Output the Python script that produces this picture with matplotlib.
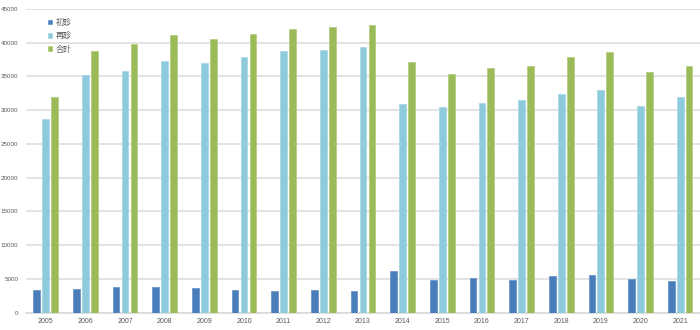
import numpy as np
import matplotlib.pyplot as plt

plt.rcParams['font.family'] = ['Liberation Sans', 'Noto Sans CJK JP', 'DejaVu Sans']

# yearly patient counts
years = ['2005', '2006', '2007', '2008', '2009', '2010', '2011', '2012', '2013',
         '2014', '2015', '2016', '2017', '2018', '2019', '2020', '2021']
first_visit = [3400, 3500, 3850, 3760, 3620, 3300, 3170, 3360, 3170,
               6140, 4850, 5200, 4900, 5450, 5530, 5000, 4650]
return_visit = [28750, 35230, 35860, 37250, 37000, 37850, 38830, 38930, 39420,
                30930, 30440, 31030, 31570, 32410, 33000, 30590, 31920]
total = [32000, 38780, 39780, 41110, 40560, 41260, 42090, 42290, 42640,
         37150, 35370, 36310, 36560, 37940, 38640, 35630, 36560]

x = np.arange(len(years))
w = 0.17
off = 0.225

fig = plt.figure(figsize=(7, 3.3), dpi=100)
ax = fig.add_axes([0.037, 0.0524, 0.963, 0.9203])

ax.bar(x - off, first_visit, w, color='#4a7ebb', edgecolor='#6b96cc', linewidth=0.6, label='初診', zorder=3)
ax.bar(x, return_visit, w, color='#8ccadc', edgecolor='#aad8e6', linewidth=0.6, label='再診', zorder=3)
ax.bar(x + off, total, w, color='#9bbb59', edgecolor='#b4cd80', linewidth=0.6, label='合計', zorder=3)

ax.set_xlim(-0.5, len(years) - 0.5)
ax.set_ylim(0, 45000)
ax.set_yticks(np.arange(0, 45001, 5000))
ax.set_xticks(x)
ax.set_xticklabels(years)
ax.tick_params(axis='both', length=0, colors='#595959')
ax.tick_params(axis='y', labelsize=4.5, pad=5.5)
ax.tick_params(axis='x', labelsize=5, pad=4)
ax.grid(axis='y', color='#e3e3e3', linewidth=1.4, zorder=0)

for s in ['top', 'right', 'left']:
    ax.spines[s].set_visible(False)
ax.spines['bottom'].set_color('#d9d9d9')
ax.spines['bottom'].set_linewidth(1.2)

leg = ax.legend(loc='upper left', bbox_to_anchor=(0.022, 0.995), frameon=False,
                prop={'family': ['Noto Sans CJK JP'], 'size': 5.8},
                handlelength=0.55, handleheight=0.55, handletextpad=0.4,
                labelspacing=0.55, labelcolor='#595959')

fig.savefig('out.png', dpi=100)
